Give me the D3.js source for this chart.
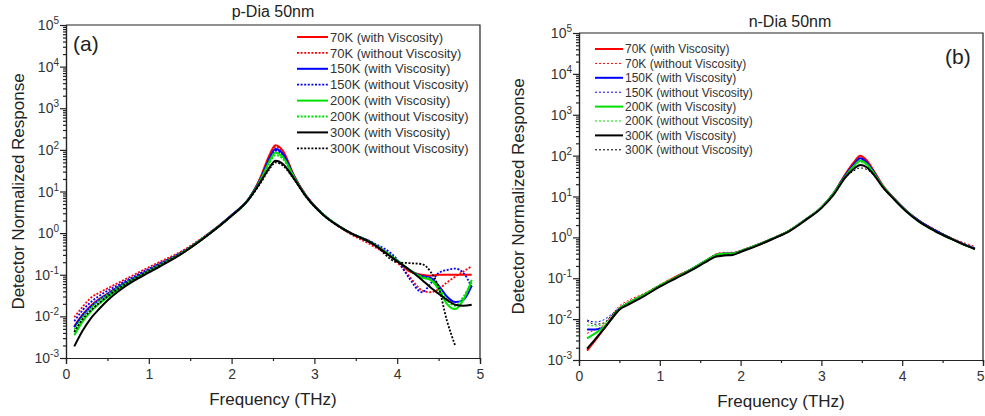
<!DOCTYPE html>
<html>
<head>
<meta charset="utf-8">
<script src="https://cdn.jsdelivr.net/npm/d3@7"></script>
<style>
  body { margin: 0; background: #fff; }
  svg { font-family: "Liberation Sans", Arial, sans-serif; }
</style>
</head>
<body>
<svg id="chart" width="985" height="416"></svg>
<script>
// frequency grids (THz) for each panel
const freqA = [0.1,0.2,0.3,0.4,0.5,0.7,0.9,1.1,1.4,1.7,2.0,2.2,2.35,2.45,2.53,2.62,2.75,2.9,3.1,3.4,3.7,4.0,4.15,4.3,4.4,4.5,4.6,4.7,4.8,4.9];
const freqB = [0.1,0.2,0.3,0.4,0.5,0.6,0.8,1.0,1.2,1.4,1.6,1.7,1.8,1.9,2.0,2.2,2.4,2.6,2.8,3.0,3.15,3.3,3.4,3.48,3.56,3.65,3.75,3.9,4.05,4.2,4.4,4.6,4.8,4.9];

const legendLabels = [
  '70K (with Viscosity)', '70K (without Viscosity)',
  '150K (with Viscosity)', '150K (without Viscosity)',
  '200K (with Viscosity)', '200K (without Viscosity)',
  '300K (with Viscosity)', '300K (without Viscosity)'
];

// (a) p-Dia 50nm
const pDia70With     = [0.0058,0.011,0.018,0.026,0.035,0.062,0.10,0.165,0.34,0.88,2.7,6.4,22,70,130,95,25,8.0,2.9,1.1,0.56,0.22,0.12,0.10,0.095,0.10,0.10,0.10,0.10,0.10];
const pDia70Without  = [0.0095,0.017,0.028,0.037,0.047,0.075,0.12,0.19,0.37,0.92,2.7,6.5,21,64,118,88,24,8.0,2.9,1.05,0.50,0.20,0.09,0.042,0.038,0.045,0.065,0.09,0.12,0.16];
const pDia150With    = [0.0055,0.0105,0.017,0.025,0.034,0.061,0.10,0.16,0.34,0.88,2.7,6.4,20,58,105,80,24,7.8,2.9,1.1,0.57,0.22,0.13,0.092,0.085,0.055,0.030,0.022,0.025,0.055];
const pDia150Without = [0.0076,0.014,0.022,0.031,0.041,0.068,0.11,0.175,0.35,0.90,2.7,6.4,20,54,95,74,23,7.8,2.9,1.1,0.60,0.23,0.08,0.038,0.06,0.11,0.13,0.14,0.11,0.05];
const pDia200With    = [0.0035,0.0075,0.013,0.020,0.029,0.055,0.094,0.155,0.33,0.87,2.6,6.3,19,50,85,67,23,7.7,2.9,1.1,0.57,0.22,0.13,0.085,0.075,0.045,0.020,0.015,0.025,0.075];
const pDia200Without = [0.0048,0.0095,0.016,0.024,0.033,0.060,0.098,0.16,0.34,0.88,2.6,6.3,18,45,75,60,22,7.6,2.9,1.1,0.57,0.22,0.13,0.09,0.08,0.05,0.025,0.018,0.03,0.065];
const pDia300With    = [0.0019,0.0045,0.009,0.015,0.024,0.050,0.088,0.145,0.32,0.85,2.6,6.2,17,36,55,46,21,7.5,2.8,1.1,0.56,0.21,0.13,0.075,0.05,0.035,0.025,0.019,0.018,0.019];
const pDia300Without = [0.0042,0.0085,0.014,0.021,0.030,0.056,0.095,0.155,0.33,0.86,2.6,6.2,16,33,50,42,20,7.4,2.8,1.1,0.58,0.20,0.19,0.18,0.12,0.05,0.008,0.002,null,null];

// (b) n-Dia 50nm
const nDia70With     = [0.0017,0.003,0.0055,0.010,0.018,0.024,0.039,0.066,0.11,0.17,0.29,0.37,0.40,0.40,0.46,0.64,0.94,1.45,2.7,5.4,12,36,68,100,77,42,20,9.0,4.5,2.6,1.5,0.95,0.63,0.53];
const nDia70Without  = [0.0045,0.0055,0.007,0.012,0.021,0.028,0.042,0.070,0.11,0.175,0.30,0.40,0.43,0.43,0.49,0.67,0.97,1.5,2.8,5.5,12,35,64,93,72,41,20,9.2,4.7,2.7,1.6,1.0,0.70,0.60];
const nDia150With    = [0.0056,0.0056,0.0062,0.010,0.018,0.024,0.038,0.065,0.105,0.17,0.29,0.37,0.40,0.40,0.46,0.64,0.94,1.45,2.7,5.4,12,34,60,86,68,39,19,8.8,4.5,2.6,1.5,0.95,0.63,0.53];
const nDia150Without = [0.0095,0.0085,0.0095,0.013,0.019,0.025,0.039,0.066,0.105,0.17,0.29,0.38,0.41,0.41,0.47,0.65,0.95,1.45,2.7,5.4,12,33,57,79,64,38,19,8.9,4.6,2.7,1.55,0.98,0.66,0.56];
const nDia200With    = [0.0034,0.0045,0.0062,0.010,0.018,0.024,0.039,0.066,0.105,0.17,0.29,0.37,0.40,0.40,0.46,0.64,0.94,1.45,2.7,5.4,12,32,55,75,62,37,19,8.7,4.4,2.5,1.45,0.93,0.62,0.52];
const nDia200Without = [0.0072,0.0068,0.0075,0.012,0.019,0.025,0.040,0.068,0.11,0.175,0.30,0.38,0.41,0.41,0.47,0.65,0.95,1.45,2.7,5.4,12,31,52,68,57,36,18,8.6,4.4,2.5,1.45,0.93,0.62,0.52];
const nDia300With    = [0.0019,0.0032,0.0055,0.010,0.017,0.022,0.036,0.062,0.10,0.16,0.27,0.34,0.36,0.37,0.44,0.62,0.92,1.4,2.6,5.2,11,30,47,59,52,34,18,8.5,4.3,2.5,1.45,0.93,0.62,0.52];
const nDia300Without = [0.009,0.0075,0.008,0.012,0.018,0.023,0.037,0.063,0.10,0.165,0.28,0.35,0.37,0.38,0.45,0.63,0.93,1.4,2.6,5.2,11,29,42,50,46,32,17,8.4,4.3,2.5,1.45,0.93,0.62,0.52];

const xTicks = [0, 1, 2, 3, 4, 5];
const yTicks = [1e-3, 1e-2, 1e-1, 1e0, 1e1, 1e2, 1e3, 1e4, 1e5];

const colors = ['#ff0000', '#ff0000', '#0000ff', '#0000ff', '#00e000', '#00e000', '#000000', '#000000'];

const svg = d3.select('#chart');

function drawPanel(p) {
  const g = svg.append('g');
  const x = d3.scaleLinear().domain([0, 5]).range([p.left, p.right]);
  const y = d3.scaleLog().domain([1e-3, 1e5]).range([p.bottom, p.top]);

  // clip so lines stay inside the frame
  g.append('clipPath').attr('id', 'clip-' + p.id)
    .append('rect')
    .attr('x', p.left).attr('y', p.top)
    .attr('width', p.right - p.left).attr('height', p.bottom - p.top);

  // x axis: majors + half-step minors
  const xAxis = g.append('g').attr('transform', `translate(0,${p.bottom})`)
    .call(d3.axisBottom(x).tickValues(xTicks).tickSize(6).tickPadding(5).tickFormat(d3.format('d')));
  g.append('g').attr('transform', `translate(0,${p.bottom})`)
    .call(d3.axisBottom(x).tickValues([0.5, 1.5, 2.5, 3.5, 4.5]).tickSize(3).tickFormat(''));
  xAxis.selectAll('text').attr('font-size', 14).attr('fill', '#333');
  // last label sits at the window edge on the right panel
  if (p.right > 970) xAxis.selectAll('text').filter(d => d === 5).attr('text-anchor', 'end').attr('dx', 1);

  // y axis with 10^n labels
  g.append('g').attr('transform', `translate(${p.left},0)`)
    .call(d3.axisLeft(y).tickValues(yTicks).tickSize(6).tickFormat(''));
  const minor = y.ticks().filter(v => !yTicks.some(t => Math.abs(t - v) / t < 1e-6));
  g.append('g').attr('transform', `translate(${p.left},0)`)
    .call(d3.axisLeft(y).tickValues(minor).tickSize(3).tickFormat(''));

  const labs = g.append('g').attr('font-size', 14).attr('fill', '#333');
  yTicks.forEach(v => {
    const t = labs.append('text')
      .attr('x', p.left - 7)
      .attr('y', y(v) + 5)
      .attr('text-anchor', 'end');
    t.append('tspan').text('10');
    t.append('tspan').attr('dy', -6).attr('font-size', 10).text(String(Math.round(Math.log10(v))));
  });

  g.selectAll('.domain, .tick line').attr('stroke', '#222').attr('stroke-width', 1.2);

  // top and right of the frame
  g.append('path')
    .attr('d', `M${p.left},${p.top}H${p.right}V${p.bottom}`)
    .attr('fill', 'none').attr('stroke', '#222').attr('stroke-width', 1.2);

  const line = d3.line()
    .defined(d => d[1] != null)
    .x(d => x(d[0]))
    .y(d => y(d[1]))
    .curve(d3.curveMonotoneX);

  const lines = g.append('g').attr('clip-path', `url(#clip-${p.id})`);
  p.series.forEach((vals, i) => {
    const dotted = i % 2 === 1;
    lines.append('path')
      .datum(p.freq.map((f, k) => [f, vals[k]]))
      .attr('fill', 'none')
      .attr('stroke', colors[i])
      .attr('stroke-width', dotted ? p.dotWidth : 2)
      .attr('stroke-dasharray', dotted ? p.dash : null)
      .attr('d', line);
  });

  // legend
  const leg = g.append('g');
  legendLabels.forEach((lab, i) => {
    const yy = p.legY + i * p.legStep;
    const dotted = i % 2 === 1;
    leg.append('line')
      .attr('x1', p.legX).attr('x2', p.legX + p.legLen)
      .attr('y1', yy).attr('y2', yy)
      .attr('stroke', colors[i])
      .attr('stroke-width', dotted ? p.dotWidth : 2)
      .attr('stroke-dasharray', dotted ? p.dash : null);
    leg.append('text')
      .attr('x', p.legX + p.legLen + 2)
      .attr('y', yy + p.legFont * 0.36)
      .attr('font-size', p.legFont)
      .attr('fill', '#333')
      .text(lab);
  });

  // titles and labels
  g.append('text').attr('x', p.titleX).attr('y', p.titleY)
    .attr('text-anchor', 'middle').attr('font-size', 16).attr('fill', '#222').text(p.title);
  g.append('text').attr('x', (p.left + p.right) / 2).attr('y', p.bottom + 47)
    .attr('text-anchor', 'middle').attr('font-size', 17).attr('fill', '#222').text('Frequency (THz)');
  g.append('text')
    .attr('transform', `translate(${p.yLabX},${(p.top + p.bottom) / 2}) rotate(-90)`)
    .attr('text-anchor', 'middle').attr('font-size', 17).attr('fill', '#222')
    .text('Detector Normalized Response');
  g.append('text').attr('x', p.tagX).attr('y', p.tagY)
    .attr('font-size', 21).attr('fill', '#222').text(p.tag);
}

drawPanel({
  id: 'a', left: 66, right: 480, top: 25, bottom: 358,
  freq: freqA,
  series: [pDia70With, pDia70Without, pDia150With, pDia150Without, pDia200With, pDia200Without, pDia300With, pDia300Without],
  dotWidth: 1.8, dash: '2,1.6',
  legX: 297, legY: 37, legStep: 15.9, legLen: 31, legFont: 13,
  title: 'p-Dia 50nm', titleX: 273, titleY: 17,
  yLabX: 24, tag: '(a)', tagX: 73, tagY: 51
});

drawPanel({
  id: 'b', left: 579, right: 983, top: 33, bottom: 360,
  freq: freqB,
  series: [nDia70With, nDia70Without, nDia150With, nDia150Without, nDia200With, nDia200Without, nDia300With, nDia300Without],
  dotWidth: 1, dash: '2,2',
  legX: 595, legY: 49, legStep: 14.4, legLen: 28, legFont: 12,
  title: 'n-Dia 50nm', titleX: 790, titleY: 27,
  yLabX: 524, tag: '(b)', tagX: 945, tagY: 64
});
</script>
</body>
</html>
